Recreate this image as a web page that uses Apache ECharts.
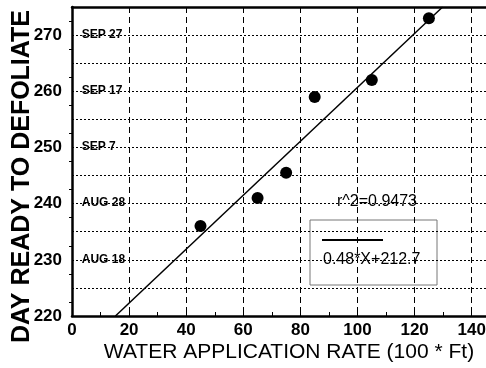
<!DOCTYPE html>
<html>
<head>
<meta charset="utf-8">
<script src="https://cdn.jsdelivr.net/npm/echarts@6/dist/echarts.min.js"></script>
<style>
  html, body { margin: 0; padding: 0; background: #fff; }
  #chart { width: 486px; height: 368px; }
</style>
</head>
<body>
<div id="chart"></div>
<script>
// measured points: water rate vs. day ready to defoliate
var waterRate = [45, 65, 75, 85, 105, 125];
var defoliateDay = [236, 241, 245.5, 259, 262, 273];

// linear fit printed on the chart
var fitSlope = 0.48;
var fitIntercept = 212.7;
var fitR2 = '0.9473';

// calendar dates written inside the plot next to the day ticks
var dateNames = ['AUG 18', 'AUG 28', 'SEP 7', 'SEP 17', 'SEP 27'];
var dateDays = [230, 240, 250, 260, 270];

var xMin = 0, xMax = 145;
var yMin = 220, yMax = 275;

(function() {
  var font = "'Liberation Sans', Arial, Helvetica, sans-serif";
  var ink = '#000';

  var fitX0 = (yMin - fitIntercept) / fitSlope;
  var fitX1 = (yMax - fitIntercept) / fitSlope;
  var fitData = [[fitX0, yMin], [fitX1, yMax]];

  var dateData = dateDays.map(function(d, i) {
    return { name: dateNames[i], value: [3.6, d] };
  });

  var chart = echarts.init(document.getElementById('chart'), null, { renderer: 'canvas' });
  chart.setOption({
    animation: false,
    grid: { left: 72, right: 0, top: 7, bottom: 52, outerBoundsMode: 'none', containLabel: false },
    xAxis: [{
      type: 'value',
      min: xMin, max: xMax, interval: 10,
      axisLine: { lineStyle: { color: ink, width: 2.5 } },
      axisTick: { inside: true, length: 4, lineStyle: { color: ink } },
      axisLabel: {
        color: ink, fontFamily: font, fontSize: 17, fontWeight: 'bold', margin: 6,
        formatter: function(v) { return v % 20 === 0 ? String(v) : ''; }
      },
      splitLine: { show: false },
      name: 'WATER APPLICATION RATE (100 * Ft)',
      nameLocation: 'middle',
      nameGap: 26,
      nameMoveOverlap: false,
      nameTextStyle: { color: ink, fontFamily: font, fontSize: 21, padding: [0, 0, 0, 20] }
    }, {
      type: 'value',
      position: 'top',
      min: xMin, max: xMax, interval: 20,
      axisLine: { show: true, lineStyle: { color: ink, width: 2.5 } },
      axisTick: { show: false },
      axisLabel: { show: false },
      splitLine: { show: true, lineStyle: { color: ink, width: 1, type: [6, 4] } }
    }],
    yAxis: {
      type: 'value',
      min: yMin, max: yMax, interval: 5,
      axisLine: { show: true, lineStyle: { color: ink, width: 2.5 } },
      axisTick: { show: false },
      minorTick: { show: true, splitNumber: 2, length: 3, lineStyle: { color: ink } },
      axisLabel: {
        color: ink, fontFamily: font, fontSize: 17, fontWeight: 'bold', margin: 10,
        formatter: function(v) { return (v % 10 === 0 && v < yMax) ? String(v) : ''; }
      },
      splitLine: { show: true, lineStyle: { color: ink, width: 1, type: [2, 2] } },
      name: 'DAY READY TO DEFOLIATE',
      nameLocation: 'middle',
      nameGap: 37,
      nameMoveOverlap: false,
      nameTextStyle: { color: ink, fontFamily: font, fontSize: 25, fontWeight: 'bold', padding: [0, 30, 0, 0] }
    },
    series: [{
      type: 'line',
      data: fitData,
      symbol: 'none',
      lineStyle: { color: ink, width: 1.5 },
      z: 3
    }, {
      type: 'scatter',
      data: waterRate.map(function(x, i) { return [x, defoliateDay[i]]; }),
      symbol: 'circle',
      symbolSize: 12,
      itemStyle: { color: ink, opacity: 1 },
      z: 4
    }, {
      type: 'scatter',
      data: dateData,
      symbolSize: 1,
      silent: true,
      itemStyle: { opacity: 0 },
      label: {
        show: true, position: [0, 0], align: 'left', verticalAlign: 'middle',
        formatter: '{b}', opacity: 1,
        color: ink, fontFamily: font, fontSize: 12, fontWeight: 'bold'
      }
    }],
    graphic: [{
      type: 'text', left: 337, top: 194,
      style: { text: 'r^2=' + fitR2, fill: ink, font: '16px ' + font }
    }, {
      type: 'rect', shape: { x: 310, y: 220, width: 127, height: 65 },
      style: { fill: 'none', stroke: '#777', lineWidth: 1 }
    }, {
      type: 'line', shape: { x1: 322, y1: 240, x2: 383, y2: 240 },
      style: { stroke: ink, lineWidth: 2 }
    }, {
      type: 'text', left: 323, top: 252,
      style: { text: fitSlope + '*X+' + fitIntercept, fill: ink, font: '16px ' + font }
    }]
  });
  window.addEventListener('resize', function() { chart.resize(); });
})();
</script>
</body>
</html>
